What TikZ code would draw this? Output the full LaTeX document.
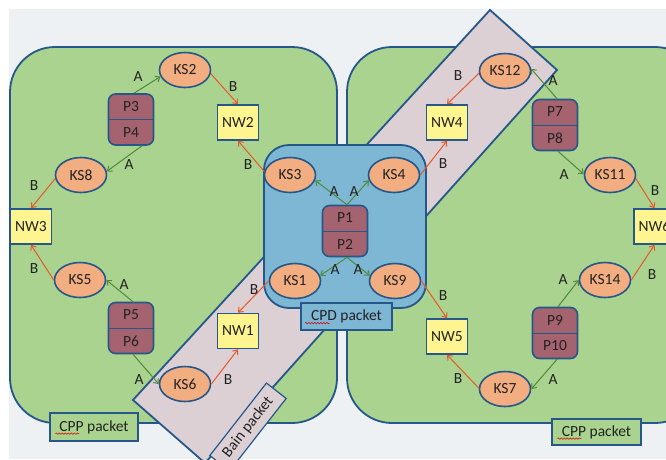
\documentclass[tikz,border=0pt]{standalone}
\usepackage{fontspec}
\setmainfont{Carlito}
\usetikzlibrary{arrows.meta,shapes.geometric,decorations.pathmorphing,calc}
\definecolor{bgc}{HTML}{EEF1F4}
\definecolor{greenreg}{HTML}{A9D38E}
\definecolor{edge}{HTML}{25578A}
\definecolor{cpdblue}{HTML}{7DB7D3}
\definecolor{bain}{HTML}{DDD0D5}
\definecolor{ksfill}{HTML}{F2AE80}
\definecolor{nwfill}{HTML}{FFF590}
\definecolor{pfill}{HTML}{A5636F}
\definecolor{agreen}{HTML}{4F8A3A}
\definecolor{borange}{HTML}{E8572A}
\definecolor{txt}{HTML}{222222}
\begin{document}
\begin{tikzpicture}[x=1pt,y=-1pt,font=\fontsize{15.5}{18}\selectfont,
  ks/.style={ellipse,draw=edge,fill=ksfill,line width=1.6pt,minimum width=51pt,minimum height=35pt,inner sep=0pt,text=txt},
  nw/.style={rectangle,draw=edge,fill=nwfill,line width=1.6pt,minimum width=41pt,minimum height=35pt,inner sep=0pt,text=txt},
  pbox/.style={rectangle,rounded corners=7pt,draw=edge,fill=pfill,line width=1.6pt,minimum width=45pt,minimum height=51pt,inner sep=0pt},
  ptext/.style={text=txt,inner sep=0pt},
  lab/.style={text=txt,inner sep=0pt},
  arrA/.style={draw=agreen,line width=1pt,-{Straight Barb[length=4pt,width=6.5pt]}},
  arrB/.style={draw=borange,line width=1pt,-{Straight Barb[length=4pt,width=6.5pt]}},
  packet/.style={draw=edge,line width=1.2pt,inner sep=0pt,text=txt},
  region/.style={draw=edge,line width=1.8pt},
  squiggle/.style={draw=red!85!black,line width=0.5pt,decorate,decoration={snake,segment length=3pt,amplitude=0.7pt}}
]
\useasboundingbox (0,0) rectangle (666,459);
\clip (0,0) rectangle (666,459);
\fill[white] (0,0) rectangle (666,459);
\fill[bgc] (9,9) rectangle (666,459);

% green regions
\draw[region,fill=greenreg,rounded corners=45pt] (10,47) rectangle (337,423);
\draw[region,fill=greenreg,rounded corners=45pt] (347,47) rectangle (700,423);

% Bain band
\draw[region,fill=bain] (133,400) -- (490,10) -- (557,70) -- (205,463) -- cycle;

% CPD region
\draw[region,fill=cpdblue,rounded corners=25pt] (264,145) rectangle (426,308);

% packet labels
\node[packet,fill=cpdblue,minimum width=91pt,minimum height=27pt] (CPDL) at (346.5,316.5) {CPD packet};
\node[packet,fill=greenreg,minimum width=88pt,minimum height=28pt] (CPPL) at (94,427) {CPP packet};
\node[packet,fill=greenreg,minimum width=89pt,minimum height=26pt] (CPPR) at (596.5,432) {CPP packet};
\node[packet,fill=bain,minimum width=92pt,minimum height=25pt,rotate=52] (BAINL) at (248,427) {Bain packet};
\draw[squiggle] ($(CPDL.base west)+(4.5,2.5)$) -- ++(25,0);
\draw[squiggle] ($(CPPL.base west)+(6,2.5)$) -- ++(24,0);
\draw[squiggle] ($(CPPR.base west)+(6,2.5)$) -- ++(24,0);

% P boxes
\foreach \n/\x/\y/\a/\b in {P34/131/119.5/P3/P4, P56/131/328/P5/P6, P12/345/231/P1/P2, P78/555/125/P7/P8, P910/555/333/P9/P10}{
  \node[pbox] (\n) at (\x,\y) {};
  \draw[edge,line width=1pt] (\n.west) -- (\n.east);
  \node[ptext] (\n a) at (\x,\y-13) {\a};
  \node[ptext] (\n b) at (\x,\y+13) {\b};
}

% KS ellipses
\node[ks] (KS2) at (185,70) {KS2};
\node[ks] (KS8) at (81,175) {KS8};
\node[ks] (KS3) at (290,175) {KS3};
\node[ks] (KS4) at (394,175) {KS4};
\node[ks] (KS1) at (295,281) {KS1};
\node[ks] (KS9) at (395,281) {KS9};
\node[ks] (KS5) at (80,280) {KS5};
\node[ks] (KS6) at (185,384) {KS6};
\node[ks] (KS12) at (505,71) {KS12};
\node[ks] (KS11) at (610,175) {KS11};
\node[ks] (KS14) at (605,280) {KS14};
\node[ks] (KS7) at (505,389) {KS7};

% NW boxes
\node[nw] (NW2) at (238,122.5) {NW2};
\node[nw] (NW3) at (31,226.5) {NW3};
\node[nw] (NW4) at (447,122.5) {NW4};
\node[nw] (NW1) at (238,331) {NW1};
\node[nw] (NW5) at (447,336.5) {NW5};
\node[nw] (NW6) at (654.5,226.5) {NW6};

% A connectors
\draw[arrA] ([xshift=3pt]P34.north) -- (KS2.195);
\draw[arrA] ([xshift=11pt]P34.south) -- (KS8.8);
\draw[arrA] ([xshift=2pt]P12.north) -- (KS3.-12);
\draw[arrA] ([xshift=2pt]P12.north) -- (KS4.192);
\draw[arrA] ([xshift=2pt]P12.south) -- (KS1.12);
\draw[arrA] ([xshift=2pt]P12.south) -- (KS9.168);
\draw[arrA] ([xshift=2pt]P56.north) -- (KS5.east);
\draw[arrA] ([xshift=2pt]P56.south) -- (KS6.west);
\draw[arrA] ([xshift=2pt]P78.north) -- (KS12.5);
\draw[arrA] ([xshift=3pt]P78.south) -- (KS11.178);
\draw[arrA] ([xshift=3pt]P910.north) -- (KS14.west);
\draw[arrA] ([xshift=2pt]P910.south) -- (KS7.east);

% B connectors
\draw[arrB] (KS2.-8) -- (NW2.north);
\draw[arrB] (KS3.172) -- (NW2.south);
\draw[arrB] (KS8.188) -- (NW3.north);
\draw[arrB] (KS5.west) -- (NW3.south);
\draw[arrB] (KS4.east) -- (NW4.south);
\draw[arrB] (KS12.185) -- (NW4.north);
\draw[arrB] (KS11.-8) -- (NW6.north);
\draw[arrB] (KS14.east) -- (NW6.south);
\draw[arrB] (KS1.west) -- (NW1.north);
\draw[arrB] (KS6.east) -- (NW1.south);
\draw[arrB] (KS9.east) -- (NW5.north);
\draw[arrB] (KS7.178) -- (NW5.south);

% connector labels
\node[lab] (la1) at (138,77) {A};
\node[lab] (la2) at (129,165) {A};
\node[lab] (la3) at (334,192) {A};
\node[lab] (la4) at (354,192) {A};
\node[lab] (la5) at (335,270) {A};
\node[lab] (la6) at (358,270) {A};
\node[lab] (la7) at (124,285) {A};
\node[lab] (la8) at (139,380) {A};
\node[lab] (la9) at (553,81) {A};
\node[lab] (la10) at (564,175) {A};
\node[lab] (la11) at (563,280) {A};
\node[lab] (la12) at (553,380) {A};
\node[lab] (lb1) at (233,87) {B};
\node[lab] (lb2) at (248,165) {B};
\node[lab] (lb3) at (34,186) {B};
\node[lab] (lb4) at (34,269) {B};
\node[lab] (lb5) at (443,164) {B};
\node[lab] (lb6) at (458,76) {B};
\node[lab] (lb7) at (655,191) {B};
\node[lab] (lb8) at (652,275) {B};
\node[lab] (lb9) at (254,290) {B};
\node[lab] (lb10) at (228,380) {B};
\node[lab] (lb11) at (443,296) {B};
\node[lab] (lb12) at (458,379) {B};
\end{tikzpicture}
\end{document}
